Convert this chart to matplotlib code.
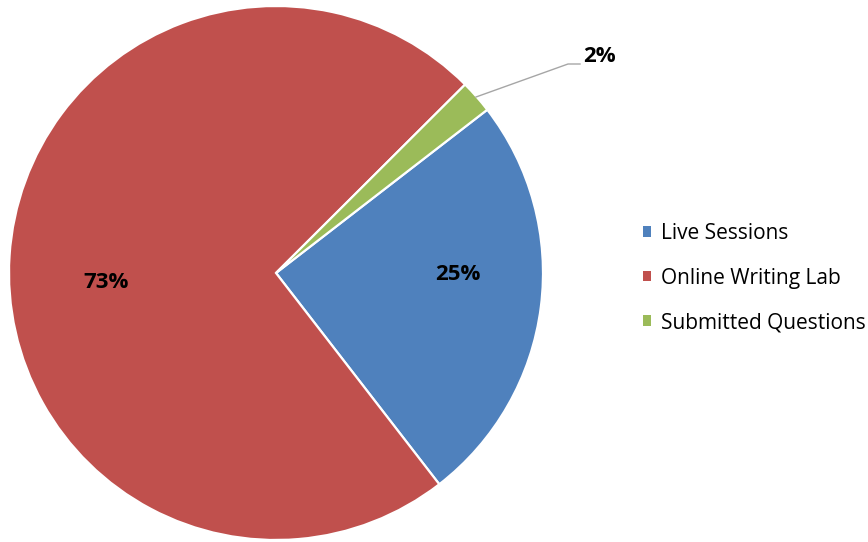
import matplotlib
matplotlib.use("Agg")
import matplotlib.pyplot as plt
from matplotlib.patches import Patch
import numpy as np

categories = ["Live Sessions", "Online Writing Lab", "Submitted Questions"]
values = [25, 73, 2]
pct_labels = ["25%", "73%", "2%"]
colors = ["#4F81BD", "#C0504D", "#9BBB59"]

plt.rcParams['font.family'] = ['Open Sans', 'DejaVu Sans']

W, H = 868, 542
fig = plt.figure(figsize=(W / 100, H / 100), dpi=100)
cx, cy, r = 276, 273, 267
ax = fig.add_axes([(cx - r) / W, (H - cy - r) / H, 2 * r / W, 2 * r / H])
ax.set_xlim(-1, 1)
ax.set_ylim(-1, 1)
ax.set_aspect('equal')
ax.axis('off')

wedges, _ = ax.pie(values, colors=colors, startangle=37.7, counterclock=False,
                   radius=1.0, center=(0, 0),
                   wedgeprops=dict(edgecolor='white', linewidth=1.6))

ax.set_xlim(-1, 1)
ax.set_ylim(-1, 1)

def px(x, y):
    return ((x - cx) / r, (cy - y) / r)

# inside labels
ax.text(*px(458, 275), pct_labels[0], ha='center', va='center',
        fontsize=16, fontweight='bold', color='black')
ax.text(*px(106, 283), pct_labels[1], ha='center', va='center',
        fontsize=16, fontweight='bold', color='black')

# outside label with leader line
p0 = px(476, 97)
p1 = px(568, 64)
p2 = px(580, 64)
ax.plot([p0[0], p1[0], p2[0]], [p0[1], p1[1], p2[1]], color='#A6A6A6',
        linewidth=1.0, clip_on=False)
ax.text(*px(583, 57), pct_labels[2], ha='left', va='center',
        fontsize=16, fontweight='bold', color='black', clip_on=False)

handles = [Patch(facecolor=c, edgecolor='none') for c in colors]
fig.legend(handles, categories, loc='center left',
           bbox_to_anchor=(643 / W, (H - 278) / H), bbox_transform=fig.transFigure,
           frameon=False, fontsize=15, handlelength=0.4, handleheight=0.4,
           handletextpad=0.45, labelspacing=1.13, borderpad=0, borderaxespad=0)

fig.savefig("out.png", dpi=100, facecolor='white')
